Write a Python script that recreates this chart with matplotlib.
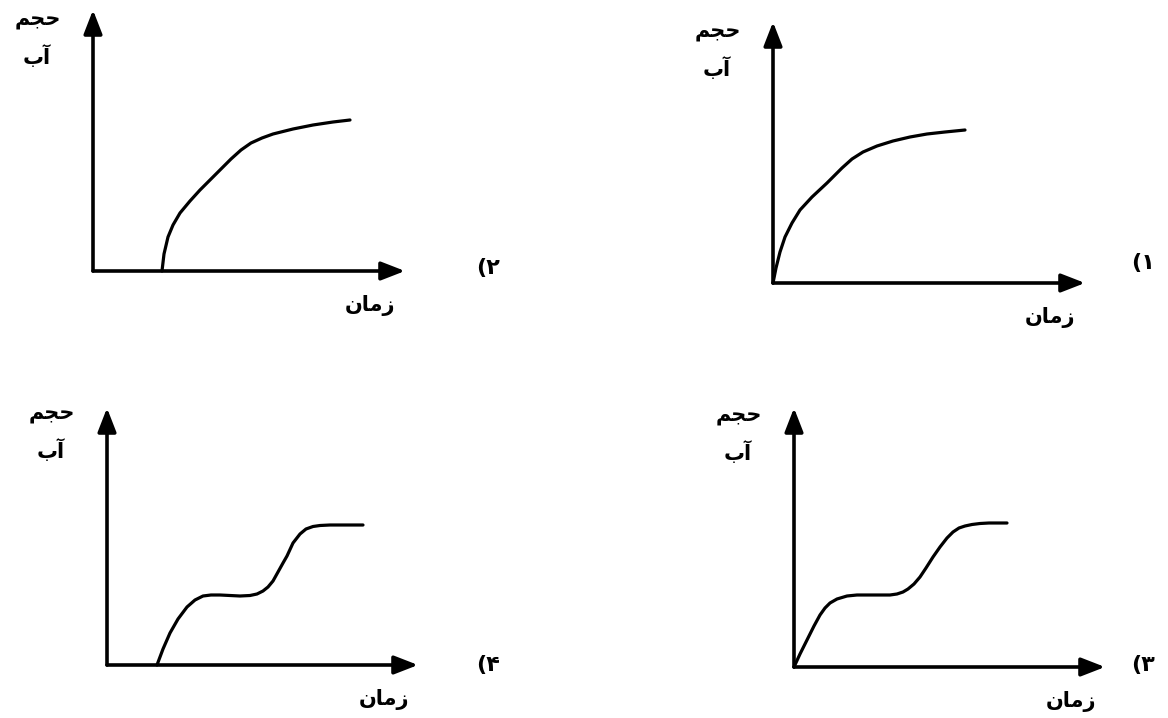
import matplotlib
matplotlib.use("Agg")
import matplotlib.pyplot as plt

plt.rcParams['font.family'] = ['DejaVu Sans']

# Labels (Persian, written with Arabic presentation forms in visual order)
y_label_1 = "\uFEE2\uFEA0\uFEA3"          # حجم
y_label_2 = "\uFE8F\uFE81"                # آب
x_label = "\uFEE5\uFE8E\uFEE3\uFEAF"      # زمان
option_labels = ["(\u06F1", "(\u06F2", "(\u06F3", "(\u06F4"]

# Curves: time vs water volume (arbitrary units)
t1 = [0, 0.3, 0.7, 1.2, 1.9, 2.7, 3.9, 5.4, 6.9, 7.9, 9.0, 10.4, 12.0, 13.7, 15.4, 17.2, 19.2]
v1 = [0, 1.5, 3.1, 4.6, 6.0, 7.3, 8.6, 10.0, 11.5, 12.4, 13.1, 13.7, 14.2, 14.6, 14.9, 15.1, 15.3]

t2 = [6.9, 7.1, 7.5, 8.0, 8.7, 9.7, 10.7, 11.7, 12.7, 13.8, 14.8, 15.8, 16.9, 18.0, 20.0, 22.0, 24.0, 25.7]
v2 = [0, 1.7, 3.4, 4.6, 5.8, 7.0, 8.1, 9.1, 10.1, 11.2, 12.1, 12.8, 13.3, 13.7, 14.2, 14.6, 14.9, 15.1]

t3 = [0, 0.6, 1.3, 2.0, 2.6, 3.1, 3.6, 4.3, 5.3, 6.3, 7.2, 8.0, 8.8, 9.6, 10.3, 10.9,
      11.4, 12.0, 12.6, 13.2, 13.9, 14.6, 15.3, 15.9, 16.5, 17.1, 17.8, 18.6, 19.5, 20.4, 21.3]
v3 = [0, 1.3, 2.7, 4.1, 5.2, 5.9, 6.4, 6.8, 7.1, 7.2, 7.2, 7.2, 7.2, 7.2, 7.3, 7.5,
      7.8, 8.3, 9.0, 9.9, 11.0, 12.0, 12.9, 13.5, 13.9, 14.1, 14.25, 14.35, 14.4, 14.4, 14.4]

t4 = [5.0, 5.6, 6.3, 7.1, 8.0, 8.8, 9.6, 10.4, 11.3, 12.3, 13.3, 14.3, 15.0, 15.6, 16.1,
      16.6, 17.1, 17.6, 18.0, 18.6, 19.3, 19.9, 20.6, 21.3, 22.3, 23.5, 24.5, 25.6]
v4 = [0, 1.6, 3.2, 4.6, 5.8, 6.5, 6.9, 7.0, 7.0, 6.95, 6.9, 6.95, 7.1, 7.4, 7.8,
      8.4, 9.3, 10.2, 10.9, 12.2, 13.1, 13.6, 13.85, 13.95, 14.0, 14.0, 14.0, 14.0]

curves = [(t1, v1), (t2, v2), (t3, v3), (t4, v4)]

W, H = 1168, 718
fig = plt.figure(figsize=(W / 100, H / 100), dpi=100)
fig.patch.set_facecolor('white')

# panel layout: origin pixel (x, y from top), axis extents in units (10 px each)
panels = [
    dict(origin=(773, 283), xmax=31.2, ymax=26.1, lab=(37.0, 2.0)),
    dict(origin=(93, 271), xmax=31.2, ymax=26.1, lab=(39.5, 0.3)),
    dict(origin=(794, 667), xmax=31.1, ymax=25.9, lab=(34.9, 0.2)),
    dict(origin=(107, 665), xmax=31.1, ymax=25.7, lab=(38.1, 0.0)),
]

for p, (t, v), lab in zip(panels, curves, option_labels):
    ox, oy = p['origin']
    xm, ym = p['xmax'], p['ymax']
    ax = fig.add_axes([ox / W, (H - oy) / H, xm * 10 / W, ym * 10 / H])
    ax.set_xlim(0, xm)
    ax.set_ylim(0, ym)
    ax.axis('off')
    arrow = dict(arrowstyle='-|>,head_length=0.9,head_width=0.35', lw=2.6,
                 color='black', shrinkA=0, shrinkB=0, mutation_scale=16)
    ax.annotate('', xy=(xm, 0), xytext=(0, 0), arrowprops=arrow,
                annotation_clip=False)
    ax.annotate('', xy=(0, ym), xytext=(0, 0), arrowprops=arrow,
                annotation_clip=False)
    ax.plot(t, v, color='black', lw=2.3, solid_capstyle='round',
            solid_joinstyle='round', clip_on=False)
    fs = 15
    ax.text(-5.5, 25.1, y_label_1, ha='center', va='center', fontsize=fs,
            fontweight='bold', clip_on=False)
    ax.text(-5.6, 21.4, y_label_2, ha='center', va='center', fontsize=fs,
            fontweight='bold', clip_on=False)
    ax.text(27.7, -3.4, x_label, ha='center', va='center', fontsize=fs,
            fontweight='bold', clip_on=False)
    ax.text(p['lab'][0], p['lab'][1], lab, ha='center', va='center',
            fontsize=16, fontweight='bold', clip_on=False)

fig.savefig('out.png', dpi=100, facecolor='white')
